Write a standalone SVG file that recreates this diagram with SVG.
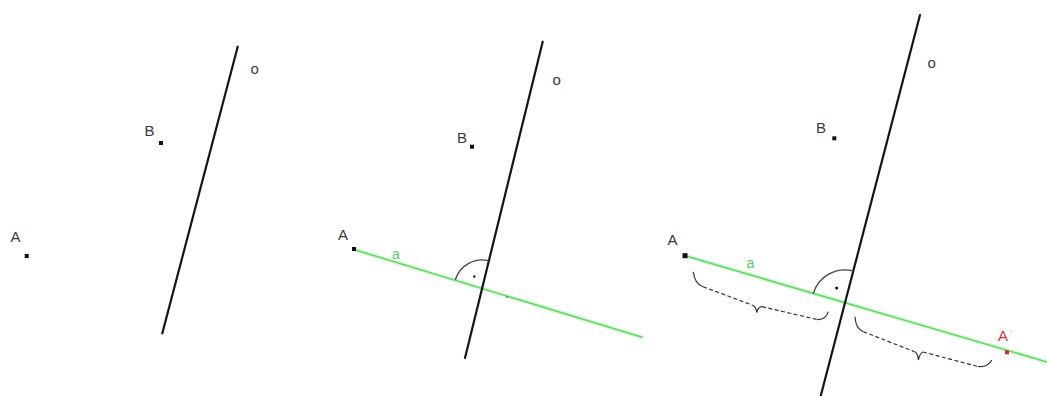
<svg xmlns="http://www.w3.org/2000/svg" width="1047" height="396" viewBox="0 0 1047 396">
<style>
.lbl{font-family:"Liberation Sans",Arial,sans-serif;font-size:15px;fill:#3a3a3a}
.axis{stroke:#141414;stroke-width:2.2;fill:none;stroke-linecap:round}
.glow{stroke:#dcf8dc;stroke-width:4.5;fill:none}
.green{stroke:#62d862;stroke-width:1.6;fill:none}
.pt{fill:#111}
.arc{stroke:#4a4350;stroke-width:1.4;fill:none}
.brace{stroke:#333;stroke-width:1.2;fill:none}
.dash{stroke:#333;stroke-width:1.2;fill:none;stroke-dasharray:4 2.5}
.gl{font-family:"Liberation Sans",Arial,sans-serif;font-size:14px;fill:#5acb5a}
</style>
<rect width="1047" height="396" fill="#fff"/>
<g id="connectors">
  <!-- panel 1 -->
  <line class="axis" x1="237.7" y1="46.7" x2="162.3" y2="333.3"/>
  <!-- panel 2 -->
  <line class="glow" x1="354" y1="249.5" x2="643" y2="337.5"/>
  <line class="green" x1="354" y1="249.5" x2="643" y2="337.5"/>
  <line class="axis" x1="542.7" y1="41.7" x2="465" y2="358"/>
  <path class="arc" d="M455.3 279.8 A28 28 0 0 1 488.8 260.8"/>
  <circle cx="474.3" cy="276.5" r="1.2" fill="#222"/>
  <circle cx="507" cy="297" r="0.8" fill="#444"/>
  <!-- panel 3 -->
  <line class="glow" x1="685" y1="255.7" x2="1047" y2="362"/>
  <line class="green" x1="685" y1="255.7" x2="1047" y2="362"/>
  <line class="axis" x1="920" y1="15" x2="820.7" y2="396"/>
  <path class="arc" d="M813.3 293.6 A33 33 0 0 1 853.3 271"/>
  <circle cx="836.7" cy="288" r="1.5" fill="#111"/>
  <!-- brace 1 -->
  <path class="brace" d="M693.3 271.7 Q694.5 283.5 703 286.7"/>
  <line class="dash" x1="703" y1="286.7" x2="752" y2="305"/>
  <path class="brace" d="M752 305 Q756 306 756.7 312.5 Q758.5 306.5 762 306.7"/>
  <line class="dash" x1="762" y1="306.7" x2="817" y2="319.5"/>
  <path class="brace" d="M817 319.5 Q826 320 828.3 311.7"/>
  <!-- brace 2 -->
  <path class="brace" d="M855 316.7 Q855.5 328.5 863.3 331.7"/>
  <line class="dash" x1="863.3" y1="331.7" x2="914" y2="351.5"/>
  <path class="brace" d="M914 351.5 Q918 352.5 918.3 360 Q920 353 923 352"/>
  <line class="dash" x1="923" y1="352" x2="978" y2="366.5"/>
  <path class="brace" d="M978 366.5 Q988 367.5 991.7 360" stroke="#c05050"/>
</g>
<g id="p1-o"><text class="lbl" x="250.5" y="74" font-size="13">o</text></g>
<g id="p1-B"><rect class="pt" x="159" y="141" width="4" height="4"/><text class="lbl" x="144.5" y="136">B</text></g>
<g id="p1-A"><rect class="pt" x="24.7" y="254" width="4" height="4"/><text class="lbl" x="10.5" y="242">A</text></g>
<g id="p2-o"><text class="lbl" x="552.5" y="85" font-size="13">o</text></g>
<g id="p2-B"><rect class="pt" x="470" y="144.7" width="4" height="4"/><text class="lbl" x="457" y="143">B</text></g>
<g id="p2-A"><rect class="pt" x="352" y="247" width="4" height="4"/><text class="lbl" x="338" y="239.5">A</text></g>
<g id="p2-a"><text class="gl" x="392" y="259">a</text></g>
<g id="p3-o"><text class="lbl" x="927.5" y="67.5" font-size="13">o</text></g>
<g id="p3-B"><rect class="pt" x="832.3" y="136.3" width="4" height="4"/><text class="lbl" x="816" y="133">B</text></g>
<g id="p3-A"><rect class="pt" x="682.5" y="253.2" width="5" height="5"/><text class="lbl" x="667.5" y="244.5">A</text></g>
<g id="p3-a"><text class="gl" x="746.5" y="268">a</text></g>
<g id="p3-A2"><rect x="1005" y="350.3" width="4" height="4" fill="#e02828"/><text class="lbl" x="998" y="341" style="fill:#e03030">A<tspan dx="2" font-size="10" dy="-3" style="fill:#bbb">'</tspan></text></g>
</svg>
